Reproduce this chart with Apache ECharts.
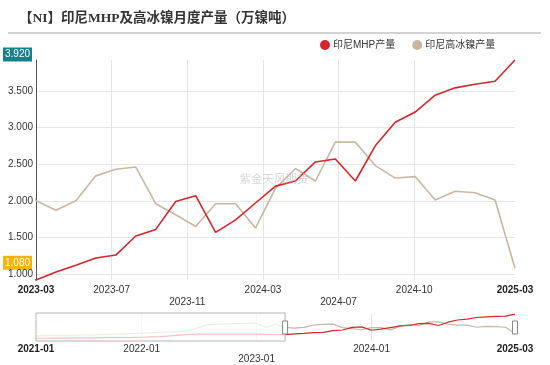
<!DOCTYPE html>
<html>
<head>
<meta charset="utf-8">
<script src="https://cdn.jsdelivr.net/npm/echarts@6/dist/echarts.min.js"></script>
<style>html,body{margin:0;padding:0;background:#fff;}#c{width:550px;height:365px;}</style>
</head>
<body>
<div id="c"></div>
<script>
// Months (month-end data), 2021-01 .. 2025-03
const months = ['2021-01','2021-02','2021-03','2021-04','2021-05','2021-06','2021-07','2021-08','2021-09','2021-10','2021-11','2021-12',
  '2022-01','2022-02','2022-03','2022-04','2022-05','2022-06','2022-07','2022-08','2022-09','2022-10','2022-11','2022-12',
  '2023-01','2023-02','2023-03','2023-04','2023-05','2023-06','2023-07','2023-08','2023-09','2023-10','2023-11','2023-12',
  '2024-01','2024-02','2024-03','2024-04','2024-05','2024-06','2024-07','2024-08','2024-09','2024-10','2024-11','2024-12',
  '2025-01','2025-02','2025-03'];
// 印尼MHP产量
const mhp = [0.40,0.40,0.42,0.43,0.45,0.45,0.47,0.48,0.50,0.50,0.52,0.55,
  0.60,0.65,0.75,0.85,0.95,1.00,1.00,1.02,1.00,1.02,1.00,1.00,
  0.98,0.95,
  0.92,1.03,1.12,1.22,1.26,1.52,1.61,1.99,2.07,1.57,1.74,1.97,2.20,2.27,2.53,2.57,2.27,2.75,3.07,3.21,3.44,3.54,3.59,3.63,3.92];
// 印尼高冰镍产量
const matte = [0.75,0.78,0.80,0.82,0.85,0.88,0.90,0.95,1.00,1.05,1.10,1.15,
  1.20,1.25,1.30,1.40,1.50,2.00,2.40,2.45,2.50,2.55,2.60,2.60,
  1.98,2.45,
  2.00,1.87,2.00,2.34,2.43,2.46,1.96,1.81,1.65,1.96,1.96,1.63,2.17,2.44,2.27,2.80,2.80,2.48,2.31,2.33,2.01,2.13,2.11,2.01,1.08];
const seriesNames = ['印尼MHP产量','印尼高冰镍产量'];
// Main axis tick labels and their positions (month index)
const mainTickLabels = ['2023-03','2023-07','2023-11','2024-03','2024-07','2024-10','2025-03'];
const mainTickPos = [26, 29.79, 33.58, 37.37, 41.16, 44.95, 50];
const mainLow = [2, 4];
// Overview axis tick labels
const ovTickLabels = ['2021-01','2022-01','2023-01','2024-01','2025-03'];
const ovTickPos = [0, 11.03, 23.03, 35.03, 50];
const ovLow = [2];
const yTicks = [1.0, 1.5, 2.0, 2.5, 3.0, 3.5];
const windowStart = 26, windowEnd = 50;

const RED = '#d5252d', BEIGE = '#c8b8a3';
const FONT = "'Liberation Sans','Noto Sans CJK SC',sans-serif";

function makeFmt(pos, labels, low) {
  return function (val) {
    let k = -1;
    for (let i = 0; i < pos.length; i++) if (Math.abs(pos[i] - val) < 0.01) k = i;
    if (k < 0) return '';
    const t = labels[k];
    if (k === 0 || k === pos.length - 1) return '{b|' + t + '}';
    if (low.indexOf(k) >= 0) return '{low|' + t + '}';
    return '{n|' + t + '}';
  };
}

const pts = arr => arr.map((v, i) => [i, v]);

const chart = echarts.init(document.getElementById('c'), null, {renderer: 'canvas'});
const option = {
  animation: false,
  backgroundColor: '#fff',
  textStyle: {fontFamily: FONT},
  title: {
    text: '【NI】印尼MHP及高冰镍月度产量（万镍吨）',
    left: 19, top: 12, padding: 0,
    textStyle: {fontSize: 13.5, fontWeight: 'bold', color: '#333', fontFamily: "'Liberation Serif','Noto Sans CJK SC',serif"}
  },
  legend: {
    data: seriesNames,
    left: 320, top: 40, padding: 0,
    icon: 'circle', itemWidth: 10, itemHeight: 10, itemGap: 17,
    textStyle: {fontSize: 10, color: '#333', padding: [0, 0, 0, -2]}
  },
  grid: [
    {left: 36, right: 35, top: 60, bottom: 85, containLabel: false},
    {left: 36, right: 35, top: 314, bottom: 24, containLabel: false}
  ],
  xAxis: [
    {
      type: 'value', gridIndex: 0, min: windowStart, max: windowEnd,
      axisLine: {show: false}, axisTick: {show: false, customValues: mainTickPos.slice(1, -1)},
      splitLine: {show: true, lineStyle: {color: '#e6e6e6', width: 1}},
      axisLabel: {
        customValues: mainTickPos, formatter: makeFmt(mainTickPos, mainTickLabels, mainLow),
        margin: 5, fontSize: 10, color: '#333',
        rich: {
          b: {fontWeight: 'bold', fontSize: 10, color: '#222'},
          n: {fontSize: 10, color: '#333'},
          low: {fontSize: 10, color: '#333', padding: [12, 0, 0, 0]}
        }
      }
    },
    {
      type: 'value', gridIndex: 1, min: 0, max: 50,
      axisLine: {show: false}, axisTick: {show: false, customValues: ovTickPos.slice(1, -1)},
      splitLine: {show: true, lineStyle: {color: '#e3e3e3', width: 1}},
      axisLabel: {
        customValues: ovTickPos, formatter: makeFmt(ovTickPos, ovTickLabels, ovLow),
        margin: 3, fontSize: 10, color: '#333',
        rich: {
          b: {fontWeight: 'bold', fontSize: 10, color: '#222'},
          n: {fontSize: 10, color: '#333'},
          low: {fontSize: 10, color: '#333', padding: [10, 0, 0, 0]}
        }
      }
    }
  ],
  yAxis: [
    {
      type: 'value', gridIndex: 0, min: 0.92, max: 3.92,
      axisLine: {show: true, lineStyle: {color: '#555', width: 1}},
      axisTick: {show: false, customValues: yTicks},
      splitLine: {show: true, lineStyle: {color: '#e6e6e6', width: 1}},
      axisLabel: {customValues: yTicks, formatter: v => v.toFixed(3), margin: 3, fontSize: 10, color: '#333'}
    },
    {
      type: 'value', gridIndex: 1, min: 0, max: 3.95,
      axisLine: {show: false}, axisTick: {show: false}, splitLine: {show: false}, axisLabel: {show: false}
    }
  ],
  series: [
    {name: seriesNames[0], type: 'line', xAxisIndex: 0, yAxisIndex: 0, data: pts(mhp), showSymbol: false, symbol: 'none',
      lineStyle: {color: RED, width: 1.6}, itemStyle: {color: RED}, clip: true, z: 3},
    {name: seriesNames[1], type: 'line', xAxisIndex: 0, yAxisIndex: 0, data: pts(matte), showSymbol: false, symbol: 'none',
      lineStyle: {color: BEIGE, width: 1.6}, itemStyle: {color: BEIGE}, clip: true, z: 2},
    {name: seriesNames[0], type: 'line', xAxisIndex: 1, yAxisIndex: 1, data: pts(mhp), showSymbol: false, symbol: 'none',
      lineStyle: {color: RED, width: 1.2}, itemStyle: {color: RED}, z: 3, silent: true},
    {name: seriesNames[1], type: 'line', xAxisIndex: 1, yAxisIndex: 1, data: pts(matte), showSymbol: false, symbol: 'none',
      lineStyle: {color: BEIGE, width: 1.2}, itemStyle: {color: BEIGE}, z: 2, silent: true}
  ]
};
chart.setOption(option);

// Positions derived from the chart's own scales
const pMax = chart.convertToPixel({xAxisIndex: 0, yAxisIndex: 0}, [windowEnd, mhp[mhp.length - 1]]);
const pMin = chart.convertToPixel({xAxisIndex: 0, yAxisIndex: 0}, [windowEnd, matte[matte.length - 1]]);
const ovL = chart.convertToPixel({xAxisIndex: 1}, 0);
const ovS = chart.convertToPixel({xAxisIndex: 1}, windowStart);
const ovE = chart.convertToPixel({xAxisIndex: 1}, windowEnd);
const ovTop = chart.convertToPixel({yAxisIndex: 1}, 3.95);
const ovBot = chart.convertToPixel({yAxisIndex: 1}, 0);

function badge(y, text, color) {
  return {
    type: 'group', z: 200,
    children: [
      {type: 'rect', shape: {x: 3, y: y - 12.5, width: 29, height: 14}, style: {fill: color}},
      {type: 'text', x: 17.5, y: y - 5.5, style: {text: text, fill: '#fff', font: '10px ' + FONT, align: 'center', verticalAlign: 'middle'}}
    ]
  };
}

chart.setOption({
  graphic: [
    {type: 'line', shape: {x1: 8, y1: 33, x2: 541, y2: 33}, style: {stroke: '#c4c4c4', lineWidth: 1.5}, z: 100},
    {type: 'text', x: 274, y: 180, style: {text: '紫金天风期货', fill: 'rgba(190,190,190,0.6)', font: '11.5px ' + FONT, align: 'center', verticalAlign: 'middle'}, z: 100},
    badge(pMax[1], mhp[mhp.length - 1].toFixed(3), '#17808b'),
    badge(pMin[1], matte[matte.length - 1].toFixed(3), '#f9b400'),
    {type: 'rect', shape: {x: ovL, y: ovTop - 1, width: ovS - ovL, height: ovBot - ovTop + 1},
      style: {fill: 'rgba(255,255,255,0.72)', stroke: '#b4b4b4', lineWidth: 1}, z: 100},
    {type: 'rect', shape: {x: ovS - 2.5, y: (ovTop + ovBot) / 2 - 6.5, width: 5, height: 13},
      style: {fill: '#fff', stroke: '#888', lineWidth: 1}, z: 101},
    {type: 'rect', shape: {x: ovE - 2.5, y: (ovTop + ovBot) / 2 - 6.5, width: 5, height: 13},
      style: {fill: '#fff', stroke: '#888', lineWidth: 1}, z: 101}
  ]
});
</script>
</body>
</html>
